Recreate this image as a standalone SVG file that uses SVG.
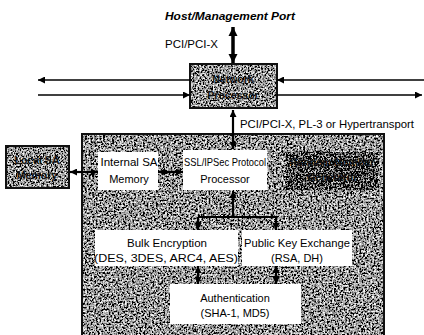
<svg xmlns="http://www.w3.org/2000/svg" width="424" height="335" viewBox="0 0 424 335">
<style>
text{font-family:"Liberation Sans",Arial,sans-serif;fill:#000;}
.lbl{font-size:11px;text-anchor:middle;}
.dim{font-size:10.5px;text-anchor:middle;fill:#111;font-weight:bold;}
.wb{fill:#fff;}
.ln{stroke:#000;stroke-width:1.6;fill:none;}
.thick{stroke:#000;stroke-width:3.5;fill:none;}
.med{stroke:#000;stroke-width:2.2;fill:none;}
</style>
<defs>
<filter id="grain" x="0" y="0" width="1" height="1">
<feTurbulence type="fractalNoise" baseFrequency="0.55" numOctaves="3" seed="4"/>
<feColorMatrix type="matrix" values="2.6 0 0 0 -0.98  2.6 0 0 0 -0.98  2.6 0 0 0 -0.98  0 0 0 0 1"/>
<feComposite in2="SourceGraphic" operator="in"/>
</filter>
<filter id="grainDark" x="0" y="0" width="1" height="1">
<feTurbulence type="fractalNoise" baseFrequency="0.6" numOctaves="3" seed="9"/>
<feColorMatrix type="matrix" values="2.6 0 0 0 -0.98  2.6 0 0 0 -0.98  2.6 0 0 0 -0.98  0 0 0 0 1"/>
<feComposite in2="SourceGraphic" operator="in"/>
</filter>
<filter id="grainBlack" x="0" y="0" width="1" height="1">
<feTurbulence type="fractalNoise" baseFrequency="0.6" numOctaves="3" seed="12"/>
<feColorMatrix type="matrix" values="2.6 0 0 0 -1.25  2.6 0 0 0 -1.25  2.6 0 0 0 -1.25  0 0 0 0 1"/>
<feComposite in2="SourceGraphic" operator="in"/>
</filter>
<marker id="ah" viewBox="0 0 10 10" refX="10" refY="5" markerWidth="8" markerHeight="7" markerUnits="userSpaceOnUse" orient="auto-start-reverse">
<path d="M0,0 L10,5 L0,10 z" fill="#000"/>
</marker>
<marker id="ahBig" viewBox="0 0 10 10" refX="10" refY="5" markerWidth="9" markerHeight="10" markerUnits="userSpaceOnUse" orient="auto-start-reverse">
<path d="M0,0 L10,5 L0,10 z" fill="#000"/>
</marker>
</defs>
<rect width="424" height="335" fill="#fff"/>

<g id="host-port">
<text x="230" y="20" style="font-size:10.5px;font-weight:bold;font-style:italic;" text-anchor="middle" textLength="130" lengthAdjust="spacingAndGlyphs">Host/Management Port</text>
<text x="165" y="48" style="font-size:10.5px;" textLength="53" lengthAdjust="spacingAndGlyphs">PCI/PCI-X</text>
</g>

<g id="security-chip">
<rect x="82" y="134" width="302" height="210" fill="#888" filter="url(#grain)"/>
<rect x="82" y="134" width="302" height="210" fill="none" stroke="#111" stroke-width="2"/>
<text x="240" y="128" style="font-size:10.5px;" textLength="174" lengthAdjust="spacingAndGlyphs">PCI/PCI-X, PL-3 or Hypertransport</text>
</g>

<g id="network-processor">
<rect x="190" y="64" width="87" height="44" fill="#888" filter="url(#grainDark)"/>
<rect x="190" y="64" width="87" height="44" fill="none" stroke="#111" stroke-width="2"/>
<text class="dim" x="233" y="83">Network</text>
<text class="dim" x="233" y="99">Processor</text>
</g>

<g id="local-sa-memory">
<rect x="6" y="146" width="63" height="42" fill="#888" filter="url(#grainDark)"/>
<rect x="6" y="146" width="63" height="42" fill="none" stroke="#111" stroke-width="2"/>
<text class="dim" x="37" y="164">Local SA</text>
<text class="dim" x="37" y="179">Memory</text>
</g>

<g id="rng">
<rect x="286" y="152" width="92" height="38" fill="#555" filter="url(#grainBlack)"/>
<text class="dim" x="332" y="166">Random Number</text>
<text class="dim" x="332" y="181">Generator</text>
</g>

<g id="internal-sa-memory">
<rect class="wb" x="98" y="152" width="60" height="38"/>
<text class="lbl" x="129" y="166" textLength="57" lengthAdjust="spacingAndGlyphs">Internal SA</text>
<text class="lbl" x="129" y="183">Memory</text>
</g>

<g id="protocol-processor">
<rect class="wb" x="183" y="150" width="84" height="40"/>
<text class="lbl" x="225" y="166" textLength="82" lengthAdjust="spacingAndGlyphs">SSL/IPSec Protocol</text>
<text class="lbl" x="225" y="183">Processor</text>
</g>

<g id="bulk-encryption">
<rect class="wb" x="95" y="230" width="143" height="36"/>
<text class="lbl" x="167" y="247" textLength="80" lengthAdjust="spacingAndGlyphs">Bulk Encryption</text>
<text class="lbl" x="166" y="262" textLength="144" lengthAdjust="spacingAndGlyphs">(DES, 3DES, ARC4, AES)</text>
</g>

<g id="public-key">
<rect class="wb" x="242" y="230" width="110" height="36"/>
<text class="lbl" x="297" y="247" textLength="106" lengthAdjust="spacingAndGlyphs">Public Key Exchange</text>
<text class="lbl" x="297" y="262">(RSA, DH)</text>
</g>

<g id="authentication">
<rect class="wb" x="170" y="284" width="131" height="40"/>
<text class="lbl" x="235" y="302">Authentication</text>
<text class="lbl" x="235" y="317">(SHA-1, MD5)</text>
</g>

<g id="connectors">
<path class="thick" d="M233,27 L233,63" marker-start="url(#ahBig)" marker-end="url(#ahBig)"/>
<path class="ln" d="M190,80 L38,80" marker-end="url(#ah)"/>
<path class="ln" d="M38,95 L190,95" marker-end="url(#ah)"/>
<path class="ln" d="M424,80 L277,80" marker-end="url(#ah)"/>
<path class="ln" d="M277,95 L422,95" marker-end="url(#ah)"/>
<path class="med" d="M233,110 L233,149" marker-start="url(#ah)" marker-end="url(#ah)"/>
<path class="med" d="M70,172 L98,172" marker-start="url(#ah)" marker-end="url(#ah)"/>
<path class="med" d="M158,172 L183,172" marker-start="url(#ah)" marker-end="url(#ah)"/>
<path class="med" d="M233,191 L233,217" marker-start="url(#ah)"/>
<path class="med" d="M198,217 L276,217"/>
<path class="med" d="M198,217 L198,230" marker-end="url(#ah)"/>
<path class="med" d="M276,217 L276,230" marker-end="url(#ah)"/>
<path class="med" d="M198,266 L198,284" marker-start="url(#ah)" marker-end="url(#ah)"/>
<path class="med" d="M276,266 L276,284" marker-start="url(#ah)" marker-end="url(#ah)"/>
</g>
</svg>
